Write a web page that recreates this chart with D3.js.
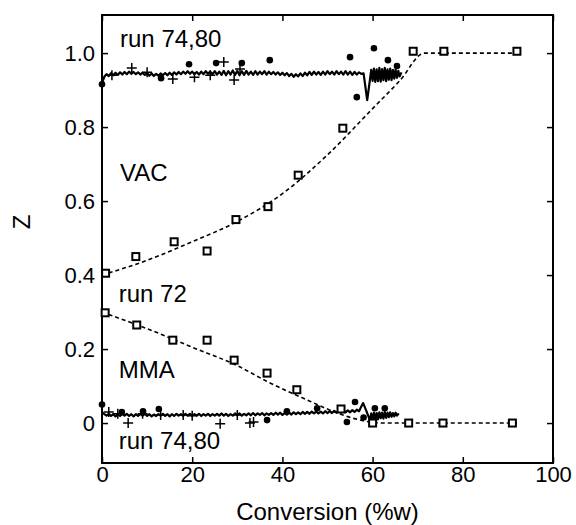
<!DOCTYPE html>
<html>
<head>
<meta charset="utf-8">
<script src="https://cdn.jsdelivr.net/npm/d3@7"></script>
<style>
  body { margin: 0; background: #fff; }
  svg { display: block; font-family: "Liberation Sans", Arial, Helvetica, sans-serif; }
</style>
</head>
<body>
<svg id="chart" width="576" height="525"></svg>
<script>
// axis ticks
const xTicks = [0, 20, 40, 60, 80, 100];
const yTicks = [0, 0.2, 0.4, 0.6, 0.8, 1.0];

// run 72, measured points (open squares)
const vac72 = [[0.8, .405], [7.5, .45], [16, .49], [23.3, .465], [29.7, .55], [36.8, .585],
  [43.5, .67], [53.4, .797], [69, 1.005], [75.8, 1.005], [92, 1.005]];
const mma72 = [[0.7, .298], [7.7, .265], [15.7, .224], [23.3, .224], [29.3, .17], [36.6, .135],
  [43.2, .09], [53, .038], [60, 0], [68, 0], [75.6, 0], [91, 0]];

// run 72, model curves (dashed)
const vac72Fit = [[0, .40], [10, .44], [20, .49], [30, .545], [40, .62], [50, .725], [60, .85],
  [66, .925], [71.5, 1.0], [92, 1.0]];
const mma72Fit = [[0, .30], [10, .255], [20, .205], [30, .155], [37, .11], [45, .065], [52, .028],
  [56, .012], [60, .002], [63, 0], [92, 0]];

// run 74,80 on-line estimates (solid noisy lines)
const vac7480Line = [[0, .918], [.5, .936], [1, .943], [1.5, .938], [2, .946], [2.5, .940], [3, .947],
  [3.5, .941], [4, .948], [4.5, .942], [5, .949], [5.5, .943], [6, .950], [6.5, .944], [7, .949],
  [7.5, .943], [8, .948], [8.5, .942], [9, .947], [9.5, .941], [10, .946], [10.5, .939], [11, .945],
  [11.5, .938], [12, .944], [12.5, .939], [13, .945], [13.5, .940], [14, .946], [14.5, .940],
  [15, .947], [15.5, .941], [16, .948], [16.5, .942], [17, .949], [17.5, .943], [18, .950],
  [18.5, .944], [19, .951], [19.5, .944], [20, .950], [20.5, .943], [21, .949], [21.5, .942],
  [22, .950], [22.5, .943], [23, .951], [23.5, .944], [24, .950], [24.5, .943], [25, .951],
  [25.5, .942], [26, .950], [26.5, .941], [27, .952], [27.5, .940], [28, .951], [28.5, .942],
  [29, .953], [29.5, .941], [30, .952], [30.5, .940], [31, .951], [31.5, .941], [32, .952],
  [32.5, .942], [33, .950], [33.5, .941], [34, .951], [34.5, .942], [35, .950], [35.5, .943],
  [36, .951], [36.5, .942], [37, .950], [37.5, .943], [38, .949], [38.5, .942], [39, .948],
  [39.5, .941], [40, .947], [40.5, .940], [41, .946], [41.5, .938], [42, .944], [42.5, .936],
  [43, .943], [43.5, .937], [44, .945], [44.5, .938], [45, .947], [45.5, .940], [46, .949],
  [46.5, .941], [47, .950], [47.5, .942], [48, .949], [48.5, .941], [49, .950], [49.5, .942],
  [50, .951], [50.5, .943], [51, .950], [51.5, .942], [52, .951], [52.5, .943], [53, .950],
  [53.5, .942], [54, .951], [54.5, .942], [55, .950], [55.5, .941], [56, .949], [56.5, .942],
  [57, .948], [57.5, .944], [58, .945], [58.8, .873], [59.4, .927], [59.7, .955], [60, .925],
  [60.3, .958], [60.6, .922], [60.9, .956], [61.2, .924], [61.5, .960], [61.8, .923], [62.1, .957],
  [62.4, .927], [62.7, .960], [63, .924], [63.3, .956], [63.6, .928], [63.9, .958], [64.2, .927],
  [64.5, .955], [64.8, .931], [65.1, .956], [65.4, .933], [65.7, .952], [66, .937], [66.4, .948]];

const mma7480Line = [[0, .030], [.5, .024], [1, .020], [1.5, .025], [2, .019], [2.5, .024], [3, .018],
  [3.5, .024], [4, .019], [4.5, .025], [5, .020], [5.5, .025], [6, .019], [6.5, .024], [7, .018],
  [7.5, .024], [8, .019], [8.5, .025], [9, .020], [9.5, .025], [10, .019], [10.5, .024], [11, .018],
  [11.5, .023], [12, .019], [12.5, .024], [13, .020], [13.5, .025], [14, .019], [14.5, .024],
  [15, .018], [15.5, .024], [16, .019], [16.5, .025], [17, .020], [17.5, .024], [18, .019],
  [18.5, .025], [19, .020], [19.5, .025], [20, .019], [20.5, .024], [21, .020], [21.5, .025],
  [22, .019], [22.5, .024], [23, .020], [23.5, .025], [24, .019], [24.5, .024], [25, .020],
  [25.5, .025], [26, .020], [26.5, .026], [27, .020], [27.5, .025], [28, .019], [28.5, .024],
  [29, .020], [29.5, .026], [30, .021], [30.5, .026], [31, .020], [31.5, .025], [32, .021],
  [32.5, .026], [33, .021], [33.5, .027], [34, .021], [34.5, .026], [35, .022], [35.5, .027],
  [36, .021], [36.5, .026], [37, .022], [37.5, .027], [38, .022], [38.5, .028], [39, .023],
  [39.5, .028], [40, .022], [40.5, .027], [41, .023], [41.5, .028], [42, .023], [42.5, .029],
  [43, .024], [43.5, .029], [44, .024], [44.5, .030], [45, .025], [45.5, .030], [46, .025],
  [46.5, .031], [47, .026], [47.5, .031], [48, .026], [48.5, .031], [49, .026], [49.5, .032],
  [50, .027], [50.5, .032], [51, .027], [51.5, .033], [52, .028], [52.5, .033], [53, .028],
  [53.5, .034], [54, .029], [54.5, .034], [55, .029], [55.5, .035], [56, .030], [56.5, .036],
  [57, .032], [57.5, .045], [57.9, .054], [58.7, .030], [59.4, .008], [59.7, .026], [60, .008],
  [60.3, .028], [60.6, .011], [60.9, .027], [61.2, .010], [61.5, .029], [61.8, .013], [62.1, .028],
  [62.4, .012], [62.7, .030], [63, .014], [63.3, .028], [63.6, .016], [63.9, .029], [64.2, .017],
  [64.5, .027], [64.8, .018], [65.1, .028], [65.4, .020], [65.8, .026]];

// run 74,80 measured points: dots and plus signs
const vac7480Dots = [[0, .916], [13.1, .932], [19.3, .97], [25.3, .973], [31, .973], [37.2, .981],
  [55, .989], [56.5, .881], [60.3, 1.013], [63.4, .981], [65.4, .965]];
const mma7480Dots = [[0, .05], [4.4, .03], [9.1, .032], [12.6, .038], [36.6, .008], [41, .032],
  [47.7, .04], [54.3, .003], [56.1, .057], [60.5, .04], [62.7, .04], [58, .015], [60, 0]];
const vac7480Plus = [[2.2, .94], [6.6, .96], [10, .948], [15.7, .93], [20.5, .935], [24, .94],
  [27, .976], [29.3, .927], [30.6, .957]];
const mma7480Plus = [[1.5, .03], [3.5, .025], [5.8, 0], [9, .025], [13, .022], [18, .022], [20, .02],
  [26.2, -.002], [30, .022], [32.8, 0], [33.6, .003]];

// text annotations [label, x, y] in data units
const notes = [["run 74,80", 4, 1.017], ["VAC", 4, .655], ["run 72", 3.7, .327],
  ["MMA", 3.7, .121], ["run 74,80", 3.7, -.071]];

const svg = d3.select('#chart');
const W = 576, H = 525;
const margin = { top: 15, right: 23, bottom: 62, left: 102 };

const x = d3.scaleLinear().domain([0, 100]).range([margin.left, W - margin.right]);
const y = d3.scaleLinear().domain([-0.108, 1.103]).range([H - margin.bottom, margin.top]);

const yFmt = d => d === 0 ? '0' : d.toFixed(1);

function styleAxis(g) {
  g.select('.domain').remove();
  g.selectAll('.tick line').attr('stroke', '#000').attr('stroke-width', 1.5);
  g.selectAll('.tick text').attr('fill', '#000').attr('font-size', 22)
    .attr('font-family', '"Liberation Sans", Arial, sans-serif');
}

svg.append('g').attr('transform', `translate(0,${y.range()[0]})`)
  .call(d3.axisBottom(x).tickValues(xTicks).tickSize(-6).tickPadding(3))
  .call(styleAxis);
svg.append('g').attr('transform', `translate(0,${y.range()[1]})`)
  .call(d3.axisTop(x).tickValues(xTicks).tickSize(-6).tickFormat(''))
  .call(styleAxis);
svg.append('g').attr('transform', `translate(${x.range()[0]},0)`)
  .call(d3.axisLeft(y).tickValues(yTicks).tickSize(-6).tickPadding(7).tickFormat(yFmt))
  .call(styleAxis);
svg.append('g').attr('transform', `translate(${x.range()[1]},0)`)
  .call(d3.axisRight(y).tickValues(yTicks).tickSize(-6).tickFormat(''))
  .call(styleAxis);

svg.append('rect')
  .attr('x', x(0)).attr('y', y(1.103))
  .attr('width', x(100) - x(0)).attr('height', y(-0.108) - y(1.103))
  .attr('fill', 'none').attr('stroke', '#000').attr('stroke-width', 2);

const line = d3.line().x(d => x(d[0])).y(d => y(d[1]));
const smooth = d3.line().x(d => x(d[0])).y(d => y(d[1])).curve(d3.curveMonotoneX);

const plot = svg.append('g');

// dashed fits
[vac72Fit, mma72Fit].forEach(s => {
  plot.append('path').datum(s).attr('d', smooth)
    .attr('fill', 'none').attr('stroke', '#000').attr('stroke-width', 1.6)
    .attr('stroke-dasharray', '4,3');
});

// noisy on-line lines
[vac7480Line, mma7480Line].forEach(s => {
  plot.append('path').datum(s).attr('d', line)
    .attr('fill', 'none').attr('stroke', '#000').attr('stroke-width', 2.2)
    .attr('stroke-linejoin', 'round');
});

// plus markers
const plusPath = 'M-5,0H5M0,-5V5';
plot.selectAll('path.plus').data(vac7480Plus.concat(mma7480Plus)).join('path')
  .attr('class', 'plus')
  .attr('transform', d => `translate(${x(d[0])},${y(d[1])})`)
  .attr('d', plusPath).attr('stroke', '#000').attr('stroke-width', 1.5);

// dots
plot.selectAll('circle.dot').data(vac7480Dots.concat(mma7480Dots)).join('circle')
  .attr('class', 'dot')
  .attr('cx', d => x(d[0])).attr('cy', d => y(d[1])).attr('r', 3.3).attr('fill', '#000');

// open squares
plot.selectAll('rect.sq').data(vac72.concat(mma72)).join('rect')
  .attr('class', 'sq')
  .attr('x', d => x(d[0]) - 3.5).attr('y', d => y(d[1]) - 3.5)
  .attr('width', 7).attr('height', 7)
  .attr('fill', '#fff').attr('stroke', '#000').attr('stroke-width', 2);

// annotations
svg.selectAll('text.note').data(notes).join('text')
  .attr('class', 'note')
  .attr('x', d => x(d[1])).attr('y', d => y(d[2]))
  .attr('font-size', 24).attr('fill', '#000')
  .text(d => d[0]);

// axis titles
svg.append('text')
  .attr('x', (x(0) + x(100)) / 2).attr('y', 520)
  .attr('text-anchor', 'middle').attr('font-size', 24)
  .text('Conversion (%w)');
svg.append('text')
  .attr('transform', 'translate(30,222) rotate(-90)')
  .attr('text-anchor', 'middle').attr('font-size', 24)
  .text('Z');
</script>
</body>
</html>
